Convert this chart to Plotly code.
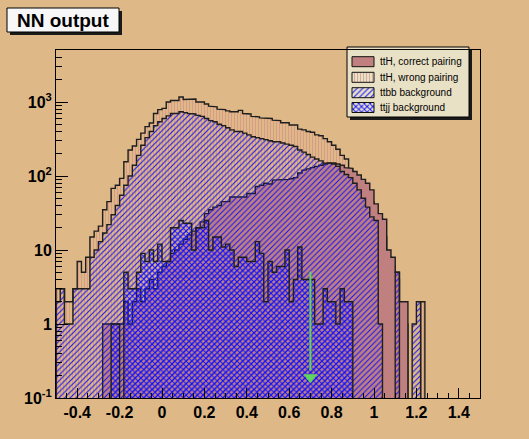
import numpy as np
import plotly.graph_objects as go

# ---------------- data (100 bins, -0.5 .. 1.5, width 0.02) ----------------
bin_edges = np.round(np.linspace(-0.5, 1.5, 101), 4)

tth_wrong = [3, 3, 2, 2, 3, 7, 5, 8, 15, 18,
             21, 35, 45, 68, 75, 93, 156, 225, 255, 313,
             380, 465, 520, 700, 790, 820, 1000, 1050, 1050, 1170,
             1080, 1080, 1100, 1000, 1000, 940, 880, 860, 800, 790,
             760, 740, 740, 770, 700, 690, 640, 630, 610, 600,
             600, 570, 560, 525, 525, 490, 490, 430, 420, 400,
             390, 360, 350, 320, 290, 260, 230, 190, 170, 125,
             100, 85, 70, 60, 45, 30, 20, 15, 8, 6,
             4, 1, 1, 0, 0, 0, 2, 0, 0, 0,
             0, 0, 0, 0, 0, 0, 0, 0, 0, 0]

tth_correct = [0, 0, 0, 0, 0, 0, 0, 0, 0, 0,
               0, 1, 1, 1, 1, 1, 2, 1, 2, 3,
               2, 3, 4, 3, 5, 6, 7, 9, 10, 12,
               14, 16, 18, 20, 24, 31, 35, 38, 40, 45,
               45, 52, 52, 52, 52, 58, 58, 72, 75, 80,
               78, 88, 88, 90, 90, 92, 95, 110, 120, 125,
               130, 135, 140, 145, 150, 150, 145, 140, 130, 127,
               115, 103, 90, 80, 65, 42, 31, 26, 10, 8,
               5, 2, 2, 0, 0, 0, 0, 0, 0, 0,
               0, 0, 0, 0, 0, 0, 0, 0, 0, 0]

ttbb = [2, 3, 1, 1, 3, 3, 3, 3, 8, 10,
        13, 17, 22, 30, 40, 55, 75, 100, 140, 190,
        260, 330, 400, 480, 540, 600, 650, 700, 700, 740,
        720, 700, 690, 660, 640, 600, 560, 540, 500, 480,
        450, 420, 400, 400, 380, 360, 340, 330, 320, 310,
        300, 290, 290, 280, 270, 260, 250, 225, 210, 195,
        180, 170, 160, 150, 148, 145, 135, 115, 105, 95,
        80, 65, 50, 38, 28, 25, 1, 0, 0, 0,
        5, 0, 0, 0, 1, 2, 0, 0, 0, 0,
        0, 0, 0, 0, 0, 0, 0, 0, 0, 0]

ttjj = [0, 0, 0, 0, 0, 0, 0, 0, 0, 0,
        0, 0, 0, 1, 1, 0, 5, 3, 3, 5,
        9, 7, 10, 7, 12, 7, 7, 20, 20, 25,
        23, 23, 10, 20, 20, 25, 10, 15, 15, 11,
        12, 10, 6, 8, 8, 7, 7, 13, 9, 2,
        7, 5, 6, 6, 10, 2, 4, 11, 4, 4,
        4, 1, 1, 3, 2, 2, 1, 3, 2, 2,
        0, 0, 0, 0, 0, 0, 0, 0, 0, 0,
        0, 0, 0, 0, 0, 0, 0, 0, 0, 0,
        0, 0, 0, 0, 0, 0, 0, 0, 0, 0]

series_names = ["ttH, correct pairing", "ttH, wrong pairing",
                "ttbb background", "ttjj background"]

x_tick_vals = [-0.4, -0.2, 0, 0.2, 0.4, 0.6, 0.8, 1, 1.2, 1.4]
x_tick_text = ["-0.4", "-0.2", "0", "0.2", "0.4", "0.6", "0.8", "1", "1.2", "1.4"]
y_tick_vals = [0.1, 1, 10, 100, 1000]
y_tick_text = ["10<sup>-1</sup>", "1", "10", "10<sup>2</sup>", "10<sup>3</sup>"]

arrow_x = 0.7
arrow_top = 5.1
arrow_tip = 0.19

# ---------------- styling ----------------
W, H = 529, 439
L, R, T, B = 56, 49, 50, 41
TAN = "#deb887"
FONT = "Liberation Sans"
FLOOR = 1e-3

def px2paper_x(px):
    return (px - L) / (W - L - R)

def px2paper_y(py):
    return (H - B - py) / (H - T - B)

def step_polygon(vals):
    xs, ys = [bin_edges[0]], [FLOOR]
    for i, v in enumerate(vals):
        y = v if v > 0 else FLOOR
        xs += [bin_edges[i], bin_edges[i + 1]]
        ys += [y, y]
    xs.append(bin_edges[-1]); ys.append(FLOOR)
    return xs, ys

styles = {
    "wrong": dict(fillcolor="rgba(0,0,0,0)",
                  fillpattern=dict(shape="|", fgcolor="#d48c86", size=3, solidity=0.22, fillmode="replace")),
    "correct": dict(fillcolor="#c08080"),
    "ttbb": dict(fillcolor="rgba(0,0,0,0)",
                 fillpattern=dict(shape="/", fgcolor="#1010ff", size=4, solidity=0.25, fillmode="replace")),
    "ttjj": dict(fillcolor="rgba(0,0,0,0)",
                 fillpattern=dict(shape="x", fgcolor="#1010ff", size=4, solidity=0.42, fillmode="replace")),
}
LINE = dict(color="#1e1e1e", width=1.4)

fig = go.Figure()
for key, vals in [("wrong", tth_wrong), ("correct", tth_correct), ("ttbb", ttbb), ("ttjj", ttjj)]:
    xs, ys = step_polygon(vals)
    fig.add_trace(go.Scatter(x=xs, y=ys, mode="lines", fill="toself", line=LINE,
                             showlegend=False, hoverinfo="skip", **styles[key]))

# green arrow
fig.add_trace(go.Scatter(x=[arrow_x, arrow_x], y=[arrow_top, arrow_tip * 1.25], mode="lines",
                         line=dict(color="#5cd65c", width=2), showlegend=False, hoverinfo="skip"))
fig.add_trace(go.Scatter(x=[arrow_x], y=[arrow_tip], mode="markers",
                         marker=dict(symbol="triangle-down", size=12, color="#5cd65c", line=dict(width=0)),
                         showlegend=False, hoverinfo="skip"))

# legend swatches on a pixel-coordinate overlay axis
sw_x0, sw_x1 = 352, 374
row_centers = [61.7, 77.3, 92.7, 107.5]
legend_keys = ["correct", "wrong", "ttbb", "ttjj"]
for key, yc in zip(legend_keys, row_centers):
    fig.add_trace(go.Scatter(x=[sw_x0, sw_x1, sw_x1, sw_x0, sw_x0],
                             y=[yc - 5, yc - 5, yc + 5, yc + 5, yc - 5],
                             mode="lines", fill="toself", line=dict(color="#111", width=1),
                             xaxis="x2", yaxis="y2", showlegend=False, hoverinfo="skip",
                             **styles[key]))

shapes = []
def rect(x0, y0, x1, y1, fill, line_w=0, layer="below"):
    shapes.append(dict(type="rect", xref="paper", yref="paper",
                       x0=px2paper_x(x0), x1=px2paper_x(x1), y0=px2paper_y(y1), y1=px2paper_y(y0),
                       fillcolor=fill, line=dict(color="black", width=line_w), layer=layer))

# title box with shadow
rect(10, 11, 122, 35, "#1a1a1a")
rect(7, 8, 119, 32, "#f7f7f7", 1)
# legend box with shadow
rect(350, 50, 472, 120, "#1a1a1a")
rect(347, 47, 469, 117, "#e9e1c6", 1)

annotations = [dict(text="<b>NN output</b>", x=px2paper_x(63), y=px2paper_y(20.5), xref="paper", yref="paper",
                    showarrow=False, xanchor="center", yanchor="middle",
                    font=dict(family=FONT, size=19, color="black"))]
for name, yc in zip(series_names, row_centers):
    annotations.append(dict(text=name, x=px2paper_x(377.5), y=px2paper_y(yc), xref="paper", yref="paper",
                            showarrow=False, xanchor="left", yanchor="middle",
                            font=dict(family=FONT, size=10, color="black")))

y_minor = [m * 10.0 ** e for e in range(-1, 4) for m in range(2, 10) if m * 10.0 ** e < 5000]

fig.update_layout(
    width=W, height=H, margin=dict(l=L, r=R, t=T, b=B, autoexpand=False),
    paper_bgcolor=TAN, plot_bgcolor="rgba(0,0,0,0)",
    shapes=shapes, annotations=annotations,
    xaxis=dict(range=[-0.5, 1.5], showline=True, mirror=True, linecolor="black", linewidth=1,
               ticks="inside", ticklen=10, tickwidth=1, tickcolor="black",
               tickmode="array", tickvals=x_tick_vals, ticktext=x_tick_text,
               minor=dict(ticks="inside", ticklen=5, tickcolor="black", dtick=0.05, tick0=0, showgrid=False),
               showgrid=False, zeroline=False,
               tickfont=dict(family=FONT, size=16, color="black", weight="bold")),
    yaxis=dict(type="log", range=[-1, 3.703], showline=True, mirror=True, linecolor="black", linewidth=1,
               ticks="inside", ticklen=12, tickwidth=1, tickcolor="black",
               tickmode="array", tickvals=y_tick_vals, ticktext=y_tick_text,
               minor=dict(ticks="inside", ticklen=6, tickcolor="black", tickvals=y_minor, showgrid=False),
               showgrid=False, zeroline=False,
               tickfont=dict(family=FONT, size=16, color="black", weight="bold")),
    xaxis2=dict(overlaying="x", anchor="y2", range=[L, W - R], visible=False),
    yaxis2=dict(overlaying="y", anchor="x2", range=[H - B, T], visible=False),
)

fig.write_html("out.html", config={"displayModeBar": False, "staticPlot": True},
               post_script="document.body.style.margin='0px';document.body.style.overflow='hidden';")
